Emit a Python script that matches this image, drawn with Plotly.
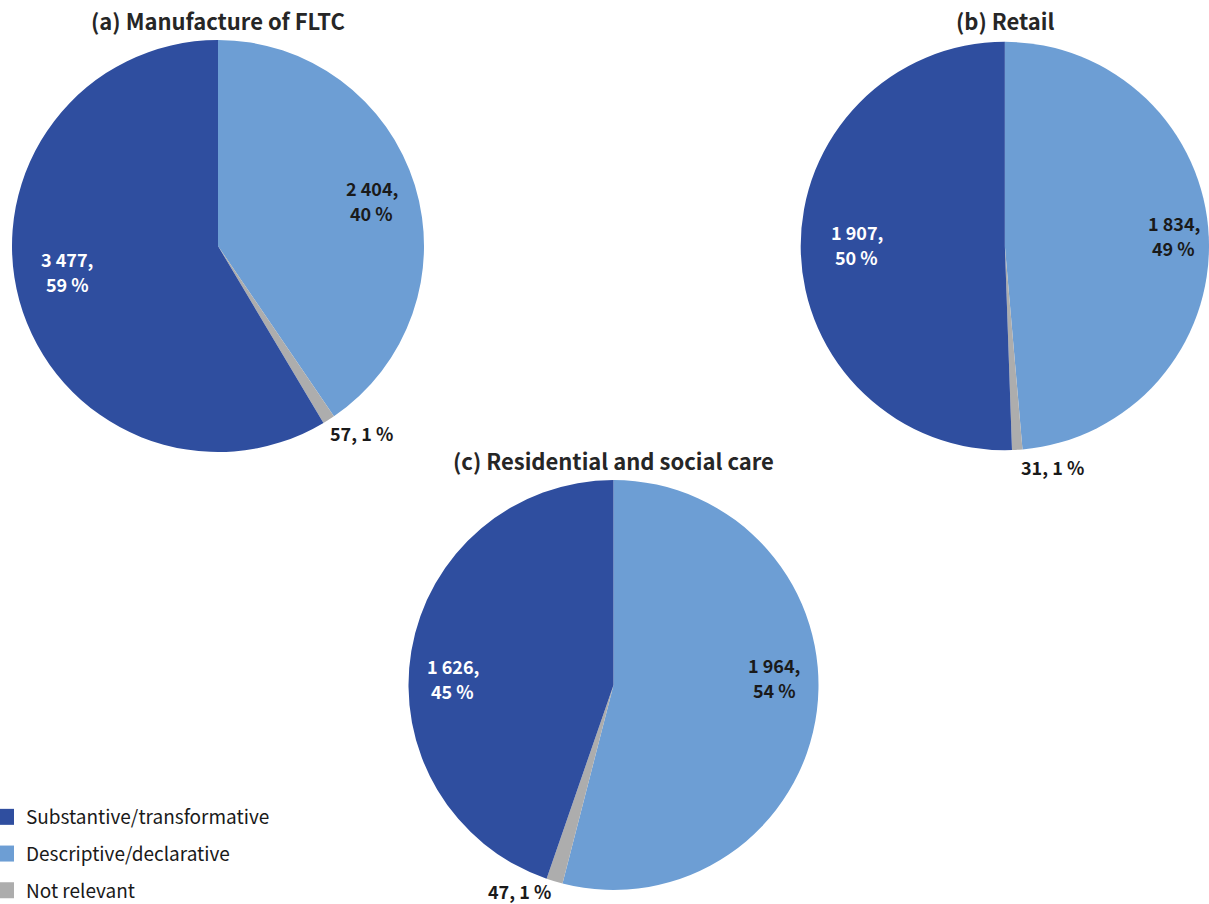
import math
import plotly.graph_objects as go

W, H = 1209, 904
FONT = "Noto Sans CJK SC"

# Categories (order of slices, clockwise from 12 o'clock)
categories = ["Descriptive/declarative", "Not relevant", "Substantive/transformative"]
legend_order = ["Substantive/transformative", "Descriptive/declarative", "Not relevant"]
colors = {
    "Substantive/transformative": "#2F4E9F",
    "Descriptive/declarative": "#6D9ED4",
    "Not relevant": "#ADADAD",
}

# Counts per panel, in the same order as `categories`
manufacture = [2404, 57, 3477]
retail = [1834, 31, 1907]
residential = [1964, 47, 1626]

titles = ["(a) Manufacture of FLTC", "(b) Retail", "(c) Residential and social care"]

# Pie domains in pixels: (x0, x1, y0_top, y1_bottom)
domains_px = [
    (12, 424, 40, 452),
    (800.7, 1209, 40, 452),
    (408.5, 818.5, 480, 890),
]
title_y_px = [20, 20, 460]

# Small pixel nudges applied to each data label (same order as `categories`)
label_nudges = [
    [(2, 1), (-8, 1), (2, -17)],
    [(12, -4), (2, 3), (9, -4)],
    [(4, -27), (2, -4), (-5, 20)],
]
LINE_GAP = 25


def percent_labels(values):
    """Whole percentages that add up to 100 (largest remainder)."""
    total = sum(values)
    raw = [v * 100 / total for v in values]
    floors = [math.floor(r) for r in raw]
    left = 100 - sum(floors)
    order = sorted(range(len(values)), key=lambda i: raw[i] - floors[i], reverse=True)
    for i in order[:left]:
        floors[i] += 1
    return floors


def fmt(v):
    return f"{v:,}".replace(",", " ")


def label(x, y, text, color, xanchor="center"):
    return dict(
        x=x / W, y=1 - y / H, xref="paper", yref="paper",
        text=f"<b>{text}</b>", showarrow=False, borderpad=0,
        font=dict(family=FONT, size=18, color=color),
        xanchor=xanchor, yanchor="middle",
    )


fig = go.Figure()
annotations = []

for values, title, (x0, x1, yt, yb), ty, nudges in zip(
    [manufacture, retail, residential], titles, domains_px, title_y_px, label_nudges
):
    fig.add_trace(
        go.Pie(
            labels=categories,
            values=values,
            sort=False,
            direction="clockwise",
            rotation=0,
            marker=dict(colors=[colors[c] for c in categories], line=dict(width=0)),
            textinfo="none",
            hoverinfo="label+value+percent",
            showlegend=False,
            domain=dict(x=[x0 / W, x1 / W], y=[1 - yb / H, 1 - yt / H]),
        )
    )
    cx, cy = (x0 + x1) / 2, (yt + yb) / 2
    R = min(x1 - x0, yb - yt) / 2

    annotations.append(
        dict(
            x=cx / W, y=1 - ty / H, xref="paper", yref="paper",
            text=f"<b>{title}</b>", showarrow=False,
            font=dict(family=FONT, size=22, color="#262626"),
            xanchor="center", yanchor="middle",
        )
    )

    pcts = percent_labels(values)
    total = sum(values)
    cum = 0
    for cat, v, p, (ndx, ndy) in zip(categories, values, pcts, nudges):
        mid = (cum + v / 2) / total
        cum += v
        theta = 2 * math.pi * mid  # clockwise from top
        ux, uy = math.sin(theta), -math.cos(theta)  # screen direction (y down)
        if cat == "Not relevant":
            r = 1.07 * R
            lx, ly = cx + r * ux + ndx, cy + r * uy + ndy
            annotations.append(
                label(lx, ly, f"{fmt(v)}, {p} %", "#1A1A1A",
                      xanchor="left" if ux >= 0 else "right")
            )
        else:
            r = 0.77 * R
            lx, ly = cx + r * ux + ndx, cy + r * uy + ndy
            color = "#FFFFFF" if cat == "Substantive/transformative" else "#1A1A1A"
            annotations.append(label(lx, ly - LINE_GAP / 2, f"{fmt(v)},", color))
            annotations.append(label(lx, ly + LINE_GAP / 2, f"{p} %", color))

# Legend entries
for i, cat in enumerate(legend_order):
    fig.add_trace(
        go.Scatter(
            x=[None], y=[None], mode="markers", name=cat,
            marker=dict(symbol="square", size=16, color=colors[cat]),
            legendgroup=f"g{i}", showlegend=True, hoverinfo="skip",
        )
    )

fig.update_layout(
    width=W, height=H,
    margin=dict(l=0, r=0, t=0, b=0, autoexpand=False),
    paper_bgcolor="white", plot_bgcolor="white",
    font=dict(family=FONT, color="#1A1A1A"),
    xaxis=dict(visible=False), yaxis=dict(visible=False),
    annotations=annotations,
    legend=dict(
        x=-14 / W, y=-6 / H, xanchor="left", yanchor="bottom",
        font=dict(family=FONT, size=19, color="#1A1A1A"),
        tracegroupgap=9, bgcolor="rgba(0,0,0,0)",
        itemsizing="trace",
    ),
)

fig.write_html("out.html")
